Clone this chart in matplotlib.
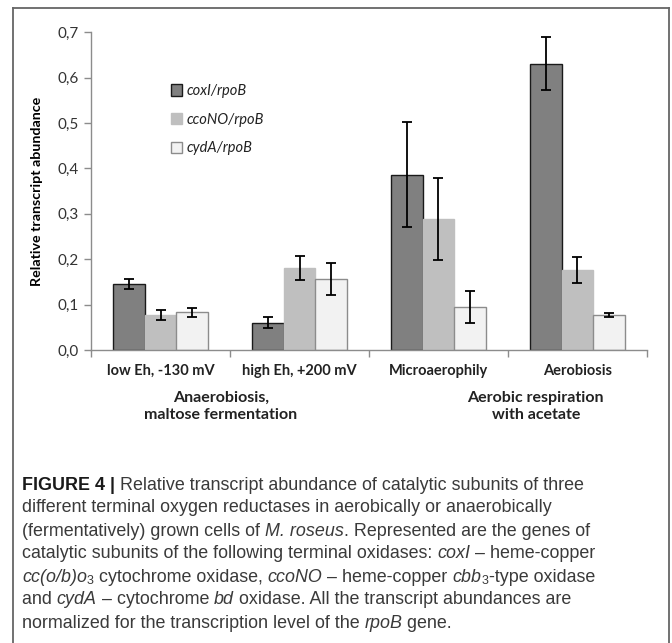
import matplotlib
matplotlib.use('Agg')
import matplotlib.pyplot as plt
import numpy as np
from matplotlib.transforms import IdentityTransform
from matplotlib.lines import Line2D

categories = ['low Eh, -130 mV', 'high Eh, +200 mV', 'Microaerophily', 'Aerobiosis']
series_names = ['coxI/rpoB', 'ccoNO/rpoB', 'cydA/rpoB']
coxI = [0.145, 0.060, 0.386, 0.631]
coxI_err = [0.011, 0.012, 0.116, 0.058]
ccoNO = [0.078, 0.181, 0.289, 0.176]
ccoNO_err = [0.011, 0.027, 0.090, 0.028]
cydA = [0.083, 0.157, 0.095, 0.077]
cydA_err = [0.010, 0.035, 0.036, 0.005]
yticks = [0.0, 0.1, 0.2, 0.3, 0.4, 0.5, 0.6, 0.7]
ytick_labels = ['0,0', '0,1', '0,2', '0,3', '0,4', '0,5', '0,6', '0,7']
group_labels = ['Anaerobiosis,\nmaltose fermentation', 'Aerobic respiration\nwith acetate']
group_pos = [0.435, 2.70]

caption = [
    [('FIGURE 4 | ', 'b'), ('Relative transcript abundance of catalytic subunits of three', 'n')],
    [('different terminal oxygen reductases in aerobically or anaerobically', 'n')],
    [('(fermentatively) grown cells of ', 'n'), ('M. roseus', 'i'), ('. Represented are the genes of', 'n')],
    [('catalytic subunits of the following terminal oxidases: ', 'n'), ('coxI', 'i'), (' \u2013 heme-copper', 'n')],
    [('cc(o/b)o', 'i'), ('3', 's'), (' cytochrome oxidase, ', 'n'), ('ccoNO', 'i'),
     (' \u2013 heme-copper ', 'n'), ('cbb', 'i'), ('3', 's'), ('-type oxidase', 'n')],
    [('and ', 'n'), ('cydA', 'i'), (' \u2013 cytochrome ', 'n'), ('bd', 'i'),
     (' oxidase. All the transcript abundances are', 'n')],
    [('normalized for the transcription level of the ', 'n'), ('rpoB', 'i'), (' gene.', 'n')],
]

W, H = 672, 643
chart_font = ['Lato', 'DejaVu Sans']
cap_font = ['Liberation Sans', 'DejaVu Sans']
plt.rcParams['font.family'] = chart_font

fig = plt.figure(figsize=(W / 100, H / 100), dpi=100)
ax = fig.add_axes([91 / W, 1 - 350 / H, (647 - 91) / W, (350 - 32.3) / H])

x = np.arange(len(categories))
w = 0.227
colors = ['#808080', '#bfbfbf', '#f2f2f2']
edges = ['#1a1a1a', '#bfbfbf', '#8c8c8c']
vals = [coxI, ccoNO, cydA]
errs = [coxI_err, ccoNO_err, cydA_err]
for i in range(3):
    pos = x + (i - 1) * w
    ax.bar(pos, vals[i], w, color=colors[i], edgecolor=edges[i], linewidth=1.0,
           label=series_names[i], zorder=2)
    ax.errorbar(pos, vals[i], yerr=errs[i], fmt='none', ecolor='black',
                elinewidth=1.3, capsize=3.5, capthick=1.3, zorder=3)

ax.set_xlim(-0.5, 3.5)
ax.set_ylim(0, 0.7)
ax.set_yticks(yticks)
ax.set_yticklabels(ytick_labels, fontsize=11, color='#333333')
ax.set_xticks(x)
ax.set_xticklabels(categories, fontsize=10.5, fontweight='bold', color='#222222')
ax.set_xticks(np.arange(-0.5, 4, 1), minor=True)
ax.tick_params(axis='x', which='major', length=0, pad=10)
ax.tick_params(axis='x', which='minor', length=5, color='#8c8c8c', width=1)
ax.tick_params(axis='y', length=5, color='#8c8c8c', width=1, pad=4)
for s in ['top', 'right']:
    ax.spines[s].set_visible(False)
for s in ['left', 'bottom']:
    ax.spines[s].set_color('#8c8c8c')
    ax.spines[s].set_linewidth(1.0)
ax.set_ylabel('Relative transcript abundance', fontsize=10.3, fontweight='bold', labelpad=10)

for lab, gp in zip(group_labels, group_pos):
    ax.text(gp, -0.178, lab, ha='center', va='center', fontsize=11.5, fontweight='bold',
            color='#222222', linespacing=1.3, transform=ax.get_xaxis_transform())

leg = ax.legend(loc='upper left', bbox_to_anchor=(0.13, 0.86), frameon=False,
                prop={'style': 'italic', 'size': 10.5}, handlelength=0.8, handleheight=0.8,
                handletextpad=0.3, labelspacing=1.0, borderpad=0)
for t in leg.get_texts():
    t.set_color('#222222')

# outer frame around chart and caption
fc = '#666666'
fig.add_artist(Line2D([13 / W, 13 / W], [0, 1 - 8 / H], color=fc, lw=1.3))
fig.add_artist(Line2D([669 / W, 669 / W], [0, 1 - 8 / H], color=fc, lw=1.3))
fig.add_artist(Line2D([13 / W, 669 / W], [1 - 8 / H, 1 - 8 / H], color=fc, lw=1.3))

# caption with mixed styles
renderer = fig.canvas.get_renderer()
cap_size = 12.9


def piece_width(txt, **kw):
    a = fig.text(0, 0, '|' + txt + '|', transform=IdentityTransform(), **kw)
    b = fig.text(0, 0, '||', transform=IdentityTransform(), **kw)
    wd = a.get_window_extent(renderer).width - b.get_window_extent(renderer).width
    a.remove()
    b.remove()
    return wd


y0 = 489.5
for li, parts in enumerate(caption):
    xp = 22.0
    yb = H - (y0 + 23.0 * li)
    for txt, st in parts:
        kw = dict(family=cap_font, fontsize=cap_size, color='#3a3a3a')
        yy = yb
        if st == 'b':
            kw['fontweight'] = 'bold'
            kw['color'] = '#1a1a1a'
        elif st == 'i':
            kw['style'] = 'italic'
        elif st == 's':
            kw['fontsize'] = cap_size * 0.7
            yy = yb - 3
        fig.text(xp, yy, txt, transform=IdentityTransform(), va='baseline', ha='left', **kw)
        xp += piece_width(txt, **kw)

fig.savefig('out.png', dpi=100)
